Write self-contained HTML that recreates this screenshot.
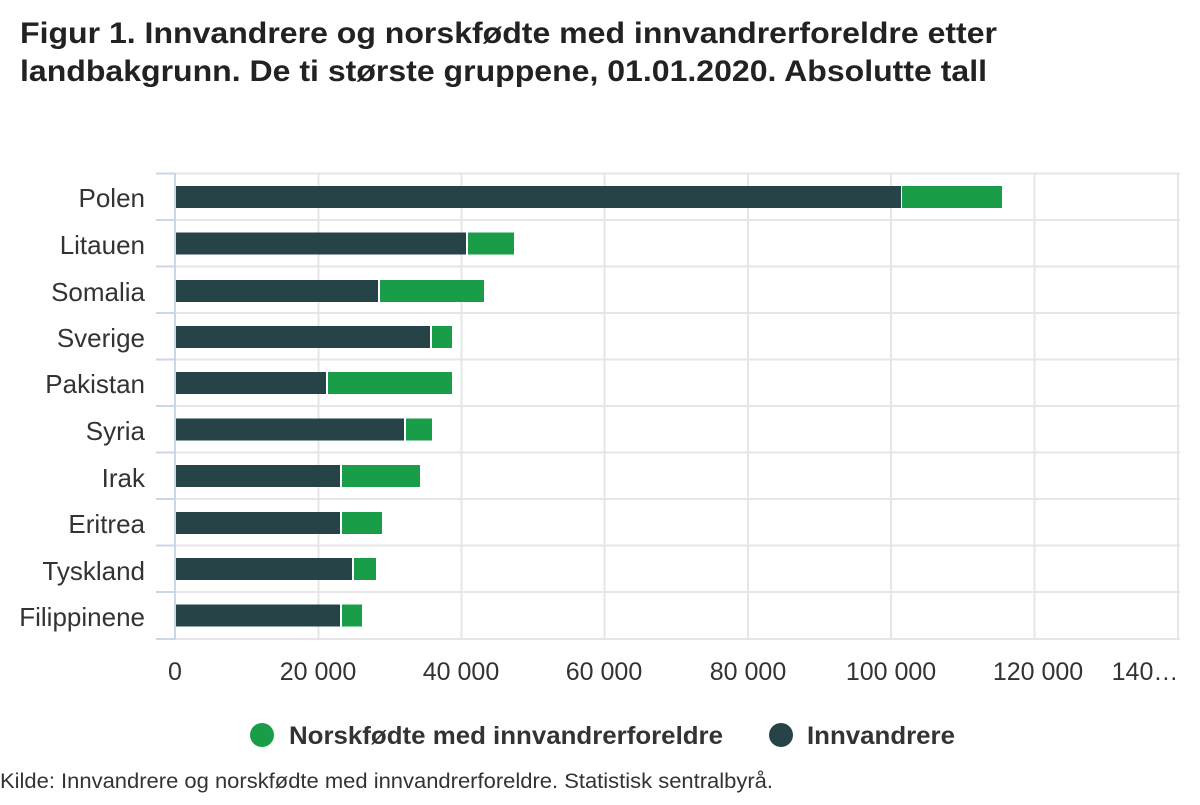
<!DOCTYPE html>
<html><head><meta charset="utf-8"><style>
body{margin:0;background:#fff;width:1200px;height:800px;overflow:hidden;font-family:"Liberation Sans",Arial,sans-serif}
</style></head><body>
<svg width="1200" height="800" xmlns="http://www.w3.org/2000/svg" font-family="Liberation Sans, Arial, sans-serif">
<text x="20" y="43" font-size="30" font-weight="bold" fill="#222" textLength="977" lengthAdjust="spacingAndGlyphs">Figur 1. Innvandrere og norskfødte med innvandrerforeldre etter</text>
<text x="20" y="81" font-size="30" font-weight="bold" fill="#222" textLength="967" lengthAdjust="spacingAndGlyphs">landbakgrunn. De ti største gruppene, 01.01.2020. Absolutte tall</text>
<g stroke="#e6e6e6" stroke-width="2">
<line x1="318.5" y1="173" x2="318.5" y2="640"/><line x1="461.5" y1="173" x2="461.5" y2="640"/>
<line x1="604.5" y1="173" x2="604.5" y2="640"/><line x1="748" y1="173" x2="748" y2="640"/>
<line x1="891" y1="173" x2="891" y2="640"/><line x1="1034.5" y1="173" x2="1034.5" y2="640"/>
<line x1="1178" y1="173" x2="1178" y2="640"/>
<line x1="175" y1="173.5" x2="1180" y2="173.5"/><line x1="175" y1="220" x2="1180" y2="220"/>
<line x1="175" y1="266.5" x2="1180" y2="266.5"/><line x1="175" y1="313" x2="1180" y2="313"/>
<line x1="175" y1="359.5" x2="1180" y2="359.5"/><line x1="175" y1="406" x2="1180" y2="406"/>
<line x1="175" y1="452.5" x2="1180" y2="452.5"/><line x1="175" y1="499" x2="1180" y2="499"/>
<line x1="175" y1="545.5" x2="1180" y2="545.5"/><line x1="175" y1="592" x2="1180" y2="592"/>
<line x1="175" y1="639" x2="1180" y2="639"/>
</g>
<g stroke="#ccd6eb" stroke-width="2">
<line x1="175" y1="173" x2="175" y2="640"/>
<line x1="156" y1="173.5" x2="175" y2="173.5"/><line x1="156" y1="220" x2="175" y2="220"/>
<line x1="156" y1="266.5" x2="175" y2="266.5"/><line x1="156" y1="313" x2="175" y2="313"/>
<line x1="156" y1="359.5" x2="175" y2="359.5"/><line x1="156" y1="406" x2="175" y2="406"/>
<line x1="156" y1="452.5" x2="175" y2="452.5"/><line x1="156" y1="499" x2="175" y2="499"/>
<line x1="156" y1="545.5" x2="175" y2="545.5"/><line x1="156" y1="592" x2="175" y2="592"/>
<line x1="156" y1="639" x2="175" y2="639"/>
</g>
<g fill="#264348">
<rect x="176" y="186" width="725" height="22"/>
<rect x="176" y="232.5" width="290" height="22"/>
<rect x="176" y="280" width="202" height="22"/>
<rect x="176" y="326" width="254" height="22"/>
<rect x="176" y="372" width="150" height="22"/>
<rect x="176" y="418.5" width="228" height="22"/>
<rect x="176" y="465" width="164" height="22"/>
<rect x="176" y="512" width="164" height="22"/>
<rect x="176" y="558" width="176" height="22"/>
<rect x="176" y="604.5" width="164" height="22"/>
</g>
<g fill="#1a9d49">
<rect x="902" y="186" width="100" height="22"/>
<rect x="468" y="232.5" width="46" height="22"/>
<rect x="380" y="280" width="104" height="22"/>
<rect x="432" y="326" width="20" height="22"/>
<rect x="328" y="372" width="124" height="22"/>
<rect x="406" y="418.5" width="26" height="22"/>
<rect x="342" y="465" width="78" height="22"/>
<rect x="342" y="512" width="40" height="22"/>
<rect x="354" y="558" width="22" height="22"/>
<rect x="342" y="604.5" width="20" height="22"/>
</g>
<g font-size="26" fill="#333" text-anchor="end">
<text x="145" y="207">Polen</text><text x="145" y="254">Litauen</text>
<text x="145" y="301">Somalia</text><text x="145" y="347">Sverige</text>
<text x="145" y="393">Pakistan</text><text x="145" y="440">Syria</text>
<text x="145" y="487">Irak</text><text x="145" y="533">Eritrea</text>
<text x="145" y="580">Tyskland</text><text x="145" y="626">Filippinene</text>
</g>
<g font-size="25" fill="#333" text-anchor="middle">
<text x="175" y="680">0</text><text x="318" y="680">20 000</text><text x="461" y="680">40 000</text>
<text x="604" y="680">60 000</text><text x="748" y="680">80 000</text><text x="891" y="680">100 000</text>
<text x="1038" y="680">120 000</text><text x="1145" y="680">140…</text>
</g>
<circle cx="262" cy="735" r="12" fill="#1a9d49"/>
<text x="289" y="744" font-size="25" font-weight="bold" fill="#333" textLength="434" lengthAdjust="spacingAndGlyphs">Norskfødte med innvandrerforeldre</text>
<circle cx="781" cy="735" r="12" fill="#264348"/>
<text x="807" y="744" font-size="25" font-weight="bold" fill="#333" textLength="148" lengthAdjust="spacingAndGlyphs">Innvandrere</text>
<text x="0" y="788" font-size="21" fill="#333" textLength="773" lengthAdjust="spacingAndGlyphs">Kilde: Innvandrere og norskfødte med innvandrerforeldre. Statistisk sentralbyrå.</text>
</svg>
</body></html>
